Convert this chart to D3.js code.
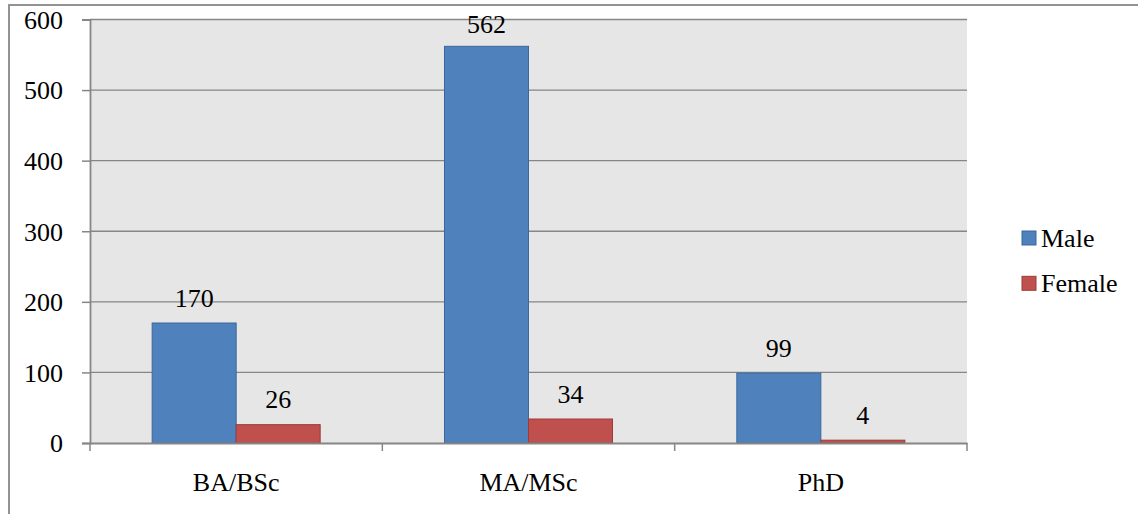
<!DOCTYPE html>
<html>
<head>
<meta charset="utf-8">
<script src="https://cdn.jsdelivr.net/npm/d3@7"></script>
<style>
  html, body { margin: 0; padding: 0; background: #fff; }
  svg { display: block; }
  text { font-family: "Liberation Serif", "Times New Roman", serif; fill: #000; }
</style>
</head>
<body>
<svg id="chart" width="1138" height="514"></svg>
<script>
const categories = ["BA/BSc", "MA/MSc", "PhD"];
const seriesNames = ["Male", "Female"];
const maleValues = [170, 562, 99];
const femaleValues = [26, 34, 4];
const yTicks = [0, 100, 200, 300, 400, 500, 600];

const colors = { Male: "#4f81bd", Female: "#c0504d" };
const strokes = { Male: "#3b679b", Female: "#9b3c39" };
const FONT = "'Liberation Serif', 'Times New Roman', serif";

const svg = d3.select("#chart");

// outer border (extends beyond right/bottom of image)
svg.append("rect")
  .attr("x", 9).attr("y", 5).attr("width", 1150).attr("height", 530)
  .attr("fill", "#fff").attr("stroke", "#888").attr("stroke-width", 1.8);

const plot = { left: 90, top: 19.5, right: 967, bottom: 443 };

const x = d3.scaleBand().domain(categories).range([plot.left, plot.right]).paddingInner(0).paddingOuter(0);
const y = d3.scaleLinear().domain([0, 600]).range([plot.bottom, plot.top]);

const sub = d3.scaleBand().domain(seriesNames)
  .range([0, x.bandwidth()]).paddingInner(0).paddingOuter(0.74);

// plot background
svg.append("rect")
  .attr("x", plot.left).attr("y", plot.top)
  .attr("width", plot.right - plot.left).attr("height", plot.bottom - plot.top)
  .attr("fill", "#e6e6e6");

// gridlines
svg.append("g").selectAll("line").data(yTicks.filter(d => d > 0)).join("line")
  .attr("x1", plot.left).attr("x2", plot.right)
  .attr("y1", d => y(d)).attr("y2", d => y(d))
  .attr("stroke", "#868686").attr("stroke-width", 1.4);

// bars
const data = categories.map((c, i) => ({ cat: c, vals: [
  { s: "Male", v: maleValues[i] }, { s: "Female", v: femaleValues[i] }
]}));

const groups = svg.append("g").selectAll("g").data(data).join("g")
  .attr("transform", d => `translate(${x(d.cat)},0)`);

groups.selectAll("rect").data(d => d.vals).join("rect")
  .attr("x", d => sub(d.s)).attr("y", d => y(d.v))
  .attr("width", sub.bandwidth()).attr("height", d => y(0) - y(d.v))
  .attr("fill", d => colors[d.s]).attr("stroke", d => strokes[d.s]).attr("stroke-width", 1);

groups.selectAll("text.lbl").data(d => d.vals).join("text")
  .attr("class", "lbl")
  .attr("x", d => sub(d.s) + sub.bandwidth() / 2)
  .attr("y", d => Math.max(y(d.v) - 16.5, 33))
  .attr("text-anchor", "middle")
  .attr("font-family", FONT)
  .attr("font-size", 26)
  .text(d => d.v);

// y axis
const yAxis = d3.axisLeft(y).tickValues(yTicks).tickSize(8).tickPadding(19).tickFormat(d3.format("d"));
const gy = svg.append("g").attr("transform", `translate(${plot.left},0)`).call(yAxis)
  .attr("font-family", FONT).attr("font-size", 26);
gy.select(".domain").attr("stroke", "#868686").attr("stroke-width", 1.8);
gy.selectAll(".tick line").attr("stroke", "#868686").attr("stroke-width", 1.5);
gy.selectAll(".tick text").attr("fill", "#000").attr("dy", "0.34em");

// x axis
const xAxis = d3.axisBottom(x).tickSize(0).tickPadding(0);
const gx = svg.append("g").attr("transform", `translate(0,${plot.bottom})`).call(xAxis)
  .attr("font-family", FONT).attr("font-size", 26);
gx.select(".domain").attr("stroke", "#868686").attr("stroke-width", 1.8);
gx.selectAll(".tick text").attr("fill", "#000").attr("y", 48).attr("dy", 0);

// x tick marks at band boundaries
const boundaries = categories.map(c => x(c)).concat([x(categories[categories.length - 1]) + x.bandwidth()]);
svg.append("g").selectAll("line").data(boundaries).join("line")
  .attr("x1", d => d).attr("x2", d => d)
  .attr("y1", plot.bottom).attr("y2", plot.bottom + 8)
  .attr("stroke", "#868686").attr("stroke-width", 1.5);

// legend
const legend = svg.append("g").selectAll("g").data(seriesNames).join("g")
  .attr("transform", (d, i) => `translate(1022,${231 + i * 45.3})`);
legend.append("rect").attr("width", 14).attr("height", 14)
  .attr("fill", d => colors[d]).attr("stroke", d => strokes[d]).attr("stroke-width", 1);
legend.append("text").attr("x", 19).attr("y", 15.7).attr("font-family", FONT).attr("font-size", 26).text(d => d);
</script>
</body>
</html>
